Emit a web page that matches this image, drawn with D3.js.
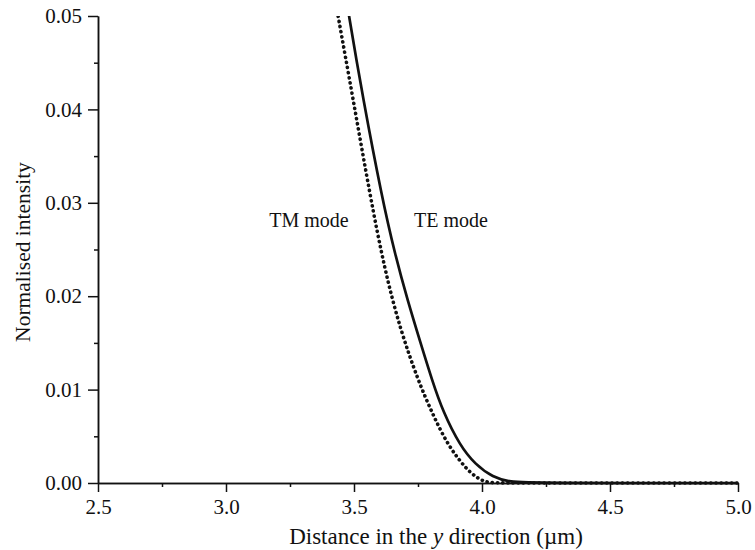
<!DOCTYPE html>
<html>
<head>
<meta charset="utf-8">
<script src="https://cdn.jsdelivr.net/npm/d3@7"></script>
<style>
  body { margin: 0; background: #fff; }
  svg text { font-family: "Times New Roman", "Liberation Serif", Times, "DejaVu Serif", serif; fill: #111; }
  .axis path, .axis line { stroke: #111; stroke-width: 1.5; }
</style>
</head>
<body>
<svg id="svgCanvas" width="755" height="550"></svg>
<script>
// data: distance (um) vs normalised intensity
let teX = [3.44, 3.480, 3.535, 3.609, 3.660, 3.710, 3.760, 3.805, 3.848, 3.914, 3.973, 4.043, 4.109, 4.20, 5.00];
let teY = [0.057, 0.050, 0.0412, 0.0306, 0.0245, 0.0195, 0.0150, 0.0110, 0.0076, 0.0040, 0.0020, 0.0006, 0.0001, 0.0, 0.0];
let tmX = [3.40, 3.4375, 3.496, 3.5625, 3.62, 3.68, 3.75, 3.805, 3.867, 3.941, 3.984, 4.02, 4.10, 5.00];
let tmY = [0.056, 0.050, 0.0412, 0.0308, 0.0228, 0.0165, 0.0110, 0.0075, 0.0040, 0.0014, 0.0005, 0.0, 0.0, 0.0];
let xTicks = [2.5, 3.0, 3.5, 4.0, 4.5, 5.0];
let yTicks = [0.00, 0.01, 0.02, 0.03, 0.04, 0.05];
let xMinor = [2.75, 3.25, 3.75, 4.25, 4.75];
let yMinor = [0.005, 0.015, 0.025, 0.035, 0.045];

window.addEventListener('DOMContentLoaded', (event) => {
    let svg = d3.select('#svgCanvas');
    let left = 98, right = 738, top = 16, bottom = 483;
    let serif = '"Times New Roman", "Liberation Serif", Times, serif';

    let x = d3.scaleLinear().domain([2.5, 5.0]).range([left, right]);
    let y = d3.scaleLinear().domain([0, 0.05]).range([bottom, top]);

    svg.append('defs').append('clipPath').attr('id', 'plotClip')
        .append('rect')
        .attr('x', left).attr('y', top)
        .attr('width', right - left + 4).attr('height', bottom - top + 4);

    // axes
    svg.append('g').attr('class', 'axis')
        .attr('transform', `translate(0,${bottom})`)
        .call(d3.axisBottom(x).tickValues(xTicks).tickFormat(d3.format('.1f')).tickSizeInner(9).tickSizeOuter(0).tickPadding(7));
    svg.append('g').attr('class', 'axis')
        .attr('transform', `translate(0,${bottom})`)
        .call(d3.axisBottom(x).tickValues(xMinor).tickFormat('').tickSizeInner(4).tickSizeOuter(0));
    svg.append('g').attr('class', 'axis')
        .attr('transform', `translate(${left},0)`)
        .call(d3.axisLeft(y).tickValues(yTicks).tickFormat(d3.format('.2f')).tickSizeInner(10).tickSizeOuter(0).tickPadding(6));
    svg.append('g').attr('class', 'axis')
        .attr('transform', `translate(${left},0)`)
        .call(d3.axisLeft(y).tickValues(yMinor).tickFormat('').tickSizeInner(4).tickSizeOuter(0));

    svg.selectAll('.axis')
        .attr('font-family', serif)
        .attr('font-size', 21);
    svg.selectAll('.axis text').attr('font-family', serif);

    // curves
    let lineOf = (xs, ys) => d3.line()
        .x((d, i) => x(xs[i]))
        .y((d, i) => y(ys[i]))
        .curve(d3.curveBasis)(xs);

    let plot = svg.append('g').attr('clip-path', 'url(#plotClip)');
    plot.append('path')
        .attr('d', lineOf(tmX, tmY))
        .attr('fill', 'none')
        .attr('stroke', '#111')
        .attr('stroke-width', 3.6)
        .attr('stroke-linecap', 'round')
        .attr('stroke-dasharray', '0.2,5');
    plot.append('path')
        .attr('d', lineOf(teX, teY))
        .attr('fill', 'none')
        .attr('stroke', '#111')
        .attr('stroke-width', 2.7);

    // labels
    svg.append('text').attr('x', 309).attr('y', 227).attr('text-anchor', 'middle')
        .attr('font-family', serif).attr('font-size', 20).text('TM mode');
    svg.append('text').attr('x', 451).attr('y', 227).attr('text-anchor', 'middle')
        .attr('font-family', serif).attr('font-size', 20).text('TE mode');

    let xt = svg.append('text').attr('x', 436).attr('y', 544).attr('text-anchor', 'middle')
        .attr('font-family', serif).attr('font-size', 23);
    xt.append('tspan').text('Distance in the ');
    xt.append('tspan').attr('font-style', 'italic').text('y');
    xt.append('tspan').text(' direction (\u00b5m)');

    svg.append('text')
        .attr('transform', 'translate(30,252) rotate(-90)')
        .attr('text-anchor', 'middle')
        .attr('font-family', serif)
        .attr('font-size', 21.5)
        .text('Normalised intensity');
});
</script>
</body>
</html>
